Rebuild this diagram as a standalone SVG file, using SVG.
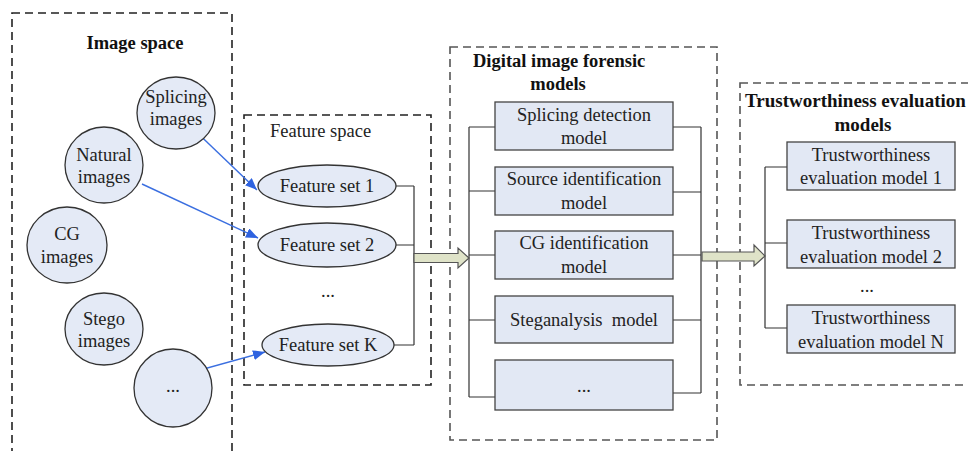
<svg xmlns="http://www.w3.org/2000/svg" width="968" height="451" viewBox="0 0 968 451">
<style>
text{font-family:"Liberation Serif","Times New Roman",serif;fill:#222;font-size:18.5px;text-anchor:middle}
.title{font-weight:bold;fill:#111;font-size:18.5px}
.lt{text-anchor:start}
.pre{white-space:pre}
.frameA{fill:none;stroke:#222;stroke-width:1.6;stroke-dasharray:8 5}
.frameB{fill:none;stroke:#555;stroke-width:1.6;stroke-dasharray:8 5}
.node{fill:#e4eaf6;stroke:#333;stroke-width:1.3}
.box{fill:#e2e8f4;stroke:#444;stroke-width:1.3}
.wire{fill:none;stroke:#333;stroke-width:1.2}
.blue{fill:none;stroke:#3b6fe0;stroke-width:1.4}
.block{fill:#dfe3c8;stroke:#555;stroke-width:1.2}
</style>
<defs>
<marker id="ah" viewBox="0 0 12 10" refX="12" refY="5" markerWidth="12" markerHeight="10" markerUnits="userSpaceOnUse" orient="auto">
<path d="M0,0 L12,5 L0,10 Z" fill="#2f63e0"/>
</marker>
</defs>

<g id="frames">
<rect class="frameA" x="12" y="13" width="220" height="450"/>
<rect class="frameA" x="244" y="115" width="187" height="270"/>
<rect class="frameB" x="450" y="47" width="267" height="393"/>
<rect class="frameB" x="740" y="83" width="240" height="302"/>
</g>

<g id="labels">
<text class="title" x="135" y="49">Image space</text>
<text class="lt" x="270" y="137">Feature space</text>
<text class="title lt" x="473" y="67">Digital image forensic</text>
<text class="title" x="558" y="90">models</text>
<text class="title lt" x="745" y="107" style="font-size:19px">Trustworthiness evaluation</text>
<text class="title" x="863" y="131" style="font-size:19px">models</text>
</g>

<g id="connectors">
<line class="blue" x1="186" y1="122" x2="257" y2="190" marker-end="url(#ah)"/>
<line class="blue" x1="142" y1="184" x2="258" y2="238" marker-end="url(#ah)"/>
<line class="blue" x1="182" y1="375" x2="265" y2="352" marker-end="url(#ah)"/>
<path class="wire" d="M396,186 H414 M396,245 H414 M394,345 H414 M414,186 V345"/>
<path class="wire" d="M469,127 V397 M469,127 H495 M469,191 H495 M469,255 H495 M469,320 H495 M469,397 H495"/>
<path class="wire" d="M701,127 V393 M673,127 H701 M673,192 H701 M673,255 H701 M673,320 H701 M673,393 H701"/>
<path class="wire" d="M765,167 V328 M765,167 H787 M765,243 H787 M765,328 H787"/>
<path class="block" d="M414,253.5 H458 V248 L469,258 L458,268 V262.5 H414 Z"/>
<path class="block" d="M702,252 H754 V245 L765,256 L754,266 V261 H702 Z"/>
</g>

<g id="n-splicing"><ellipse class="node" cx="176" cy="113" rx="39" ry="36"/><text x="176" y="103">Splicing</text><text x="176" y="125">images</text></g>
<g id="n-natural"><ellipse class="node" cx="104" cy="165" rx="39" ry="38"/><text x="104" y="161">Natural</text><text x="104" y="183">images</text></g>
<g id="n-cg"><ellipse class="node" cx="67" cy="245" rx="40" ry="38"/><text x="67" y="240">CG</text><text x="67" y="263">images</text></g>
<g id="n-stego"><ellipse class="node" cx="104" cy="329" rx="39" ry="36"/><text x="104" y="325">Stego</text><text x="104" y="347">images</text></g>
<g id="n-more-images"><ellipse class="node" cx="173" cy="388" rx="39" ry="39"/><text x="173" y="392">...</text></g>

<g id="n-fs1"><ellipse class="node" cx="327" cy="186" rx="69" ry="21"/><text x="327" y="192">Feature set 1</text></g>
<g id="n-fs2"><ellipse class="node" cx="327" cy="245" rx="69" ry="22"/><text x="327" y="251">Feature set 2</text></g>
<text x="328" y="297">...</text>
<g id="n-fsk"><ellipse class="node" cx="328" cy="345" rx="66" ry="21"/><text x="328" y="351">Feature set K</text></g>

<g id="n-splicing-model"><rect class="box" x="495" y="102" width="178" height="48"/><text x="584" y="121">Splicing detection</text><text x="584" y="144">model</text></g>
<g id="n-source-model"><rect class="box" x="495" y="167" width="178" height="48"/><text x="584" y="185">Source identification</text><text x="584" y="209">model</text></g>
<g id="n-cg-model"><rect class="box" x="495" y="231" width="178" height="48"/><text x="584" y="249">CG identification</text><text x="584" y="273">model</text></g>
<g id="n-stego-model"><rect class="box" x="495" y="296" width="178" height="47"/><text class="pre" x="584" y="326">Steganalysis  model</text></g>
<g id="n-more-models"><rect class="box" x="495" y="360" width="178" height="50"/><text x="584" y="392">...</text></g>

<g id="n-trust1"><rect class="box" x="787" y="142" width="168" height="48"/><text x="871" y="161">Trustworthiness</text><text x="871" y="184">evaluation model 1</text></g>
<g id="n-trust2"><rect class="box" x="787" y="220" width="168" height="48"/><text x="871" y="239">Trustworthiness</text><text x="871" y="263">evaluation model 2</text></g>
<text x="867" y="292">...</text>
<g id="n-trustN"><rect class="box" x="787" y="305" width="168" height="48"/><text x="871" y="324">Trustworthiness</text><text x="871" y="348">evaluation model N</text></g>
</svg>
